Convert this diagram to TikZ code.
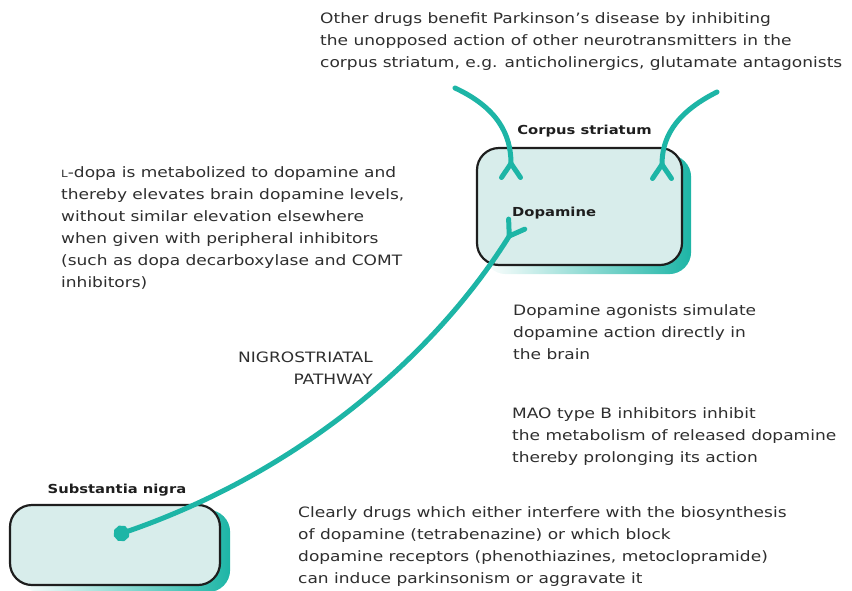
\documentclass[tikz,border=0pt]{standalone}
\usepackage{fontspec}
\setmainfont{DejaVu Sans}[FakeStretch=1.19]
\usetikzlibrary{arrows.meta,positioning,backgrounds}
\definecolor{pdTeal}{HTML}{1DB5A6}
\definecolor{pdPale}{HTML}{D8EDEB}
\definecolor{pdInk}{HTML}{1E1E1E}
\definecolor{pdGrey}{HTML}{2E2E2E}
\tikzset{
  region/.style={draw=pdInk, line width=2.2pt, fill=pdPale, rounded corners=22pt, inner sep=0pt},
  regshade/.style={left color=white, right color=pdTeal, rounded corners=22pt},
  regname/.style={font=\bfseries\fontsize{12.4}{15}\selectfont, text=pdInk, inner sep=0pt},
  note/.style={font=\fontsize{14.3}{22}\selectfont, align=left, inner sep=0pt, text=pdGrey},
  route/.style={draw=pdTeal, line width=5pt, line cap=round},
  fork/.style={route, -{Straight Barb[reversed, length=14pt, width=19pt, line cap=round]}},
}

\begin{document}
\begin{tikzpicture}[x=1pt, y=-1pt]
  \useasboundingbox (0,0) rectangle (852,590);
  % regions
  \node[region, minimum width=205pt, minimum height=117pt] (cs) at (579.5,206.5) {};
  \node[region, minimum width=210pt, minimum height=80pt] (sn) at (115,545) {};
  \begin{scope}[on background layer]
    \shade[regshade] ([xshift=8pt,yshift=-8pt]cs.south west) rectangle ([xshift=8pt,yshift=-8pt]cs.north east);
    \shade[regshade] ([xshift=9pt,yshift=-6pt]sn.south west) rectangle ([xshift=9pt,yshift=-6pt]sn.north east);
  \end{scope}
  \node[regname, above=10pt of cs.north, xshift=5pt] (csname) {Corpus striatum};
  \node[regname, above=8pt of sn.north, xshift=2pt] (snname) {Substantia nigra};
  \node[regname, anchor=west] (dopa) at (512,213) {Dopamine};

  % notes
  \node[note, anchor=north west] (other) at (320,12) {Other drugs benefit Parkinson's disease by inhibiting\\the unopposed action of other neurotransmitters in the\\corpus striatum, e.g. anticholinergics, glutamate antagonists};
  \node[note, anchor=north west] (ldopa) at (61,166) {{\fontsize{10}{10}\selectfont L}-dopa is metabolized to dopamine and\\thereby elevates brain dopamine levels,\\without similar elevation elsewhere\\when given with peripheral inhibitors\\(such as dopa decarboxylase and COMT\\inhibitors)};
  \node[note, anchor=north west] (agon) at (513,304) {Dopamine agonists simulate\\dopamine action directly in\\the brain};
  \node[note, anchor=north east, align=right] (nigro) at (373,352) {NIGROSTRIATAL\\PATHWAY};
  \node[note, anchor=north west] (mao) at (512,407) {MAO type B inhibitors inhibit\\the metabolism of released dopamine\\thereby prolonging its action};
  \node[note, anchor=north west] (block) at (298,506) {Clearly drugs which either interfere with the biosynthesis\\of dopamine (tetrabenazine) or which block\\dopamine receptors (phenothiazines, metoclopramide)\\can induce parkinsonism or aggravate it};

  % pathways
  \coordinate (inL) at (455,88);
  \coordinate (inR) at (717,92);
  \coordinate (snDot) at (114,536);
  \coordinate (dopaIn) at (518,222);
  \draw[fork] (inL) .. controls (498,108) and (511,135) .. (511,180);
  \draw[fork] (inR) .. controls (673,114) and (662,140) .. (662,181);
  \draw[fork, {Circle[length=16pt]}-{Straight Barb[reversed, length=14pt, width=19pt, line cap=round]}] (snDot) .. controls (300,472) and (435,355) .. (dopaIn);
\end{tikzpicture}
\end{document}
